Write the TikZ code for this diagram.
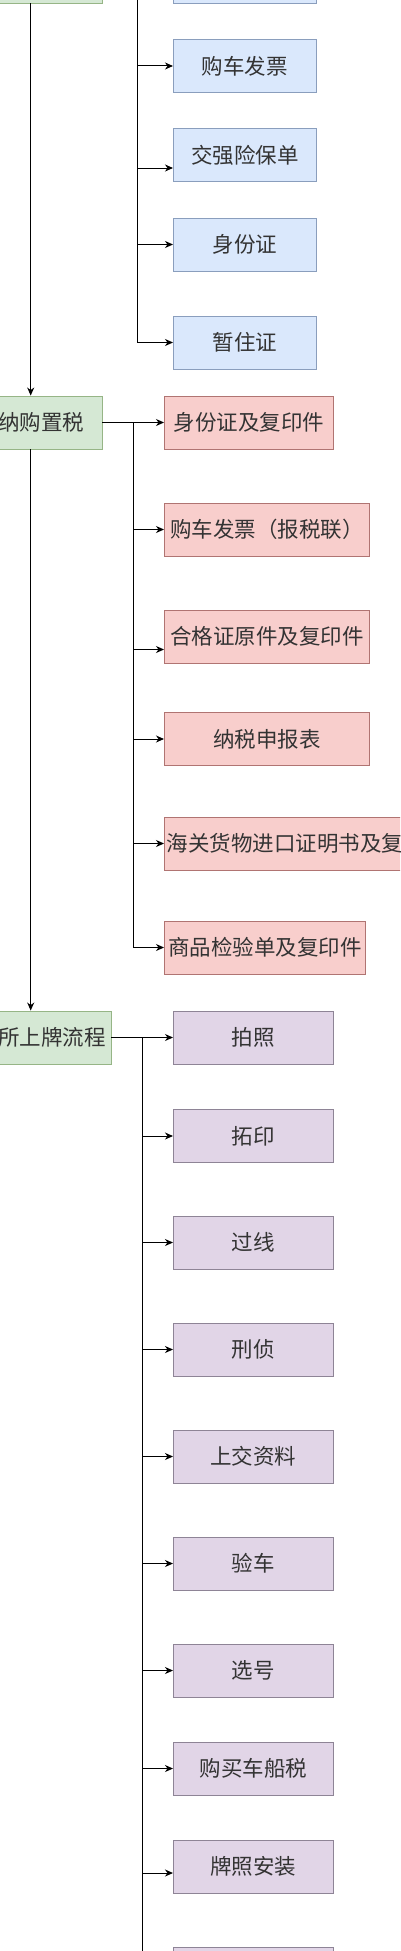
\documentclass[tikz,border=0pt]{standalone}
\usepackage{fontspec}
\setmainfont{Noto Sans CJK SC}
\usetikzlibrary{arrows.meta,calc}
\definecolor{txt}{HTML}{333333}
\definecolor{gfill}{HTML}{D5E8D4}
\definecolor{gline}{HTML}{96B586}
\definecolor{bfill}{HTML}{DAE8FC}
\definecolor{bline}{HTML}{8A9EBD}
\definecolor{pfill}{HTML}{F8CECC}
\definecolor{pline}{HTML}{B07472}
\definecolor{vfill}{HTML}{E1D5E7}
\definecolor{vline}{HTML}{8E8496}

\begin{document}
\begin{tikzpicture}[x=1pt, y=-1pt,
	box/.style = {draw, rectangle, minimum height=53pt, inner sep=2pt, line width=0.9pt, text=txt, font=\fontsize{21.5}{26}\selectfont},
	green/.style = {box, fill=gfill, draw=gline},
	blue/.style = {box, fill=bfill, draw=bline, anchor=west, minimum width=143pt},
	pink/.style = {box, fill=pfill, draw=pline, anchor=west},
	purple/.style = {box, fill=vfill, draw=vline, anchor=west, minimum width=160pt},
	arr/.style = {-{Stealth[length=8pt, width=7pt, inset=2.5pt]}, line width=1pt}]
		\useasboundingbox (0,0) rectangle (400,1951);
		\clip (0,0) rectangle (400,1951);
		% main steps
		\node[green, minimum width=142.6pt] (g0) at (30.7,-23.5) {};
		\node[green, minimum width=142.6pt] (g1) at (30.7,422.5) {缴纳购置税};
		\node[green, minimum width=160.6pt] (g2) at (30.7,1037.5) {车管所上牌流程};
		\draw[arr] (g0) -- (g1);
		\draw[arr] (g1) -- (g2);
		% documents
		\node[blue] (b0) at (173,-23.5) {};
		\node[blue] (b1) at (173,66) {购车发票};
		\node[blue] (b2) at (173,155) {交强险保单};
		\node[blue] (b3) at (173,244.5) {身份证};
		\node[blue] (b4) at (173,342.5) {暂住证};
		\coordinate (bj) at ($(g0.east)!.5!(b0.west)$);
		\draw[arr] (g0.east) -- (b0.west);
		\draw[arr] (g0.east) -- (bj) |- (b1.west);
		\draw[arr] (g0.east) -- (bj) |- ([yshift=-13pt]b2.west);
		\draw[arr] (g0.east) -- (bj) |- (b3.west);
		\draw[arr] (g0.east) -- (bj) |- (b4.west);
		% purchase tax
		\node[pink, minimum width=169pt] (p1) at (164,422.5) {身份证及复印件};
		\node[pink, minimum width=205pt] (p2) at (164,529.5) {购车发票（报税联）};
		\node[pink, minimum width=205pt] (p3) at (164,636.5) {合格证原件及复印件};
		\node[pink, minimum width=205pt] (p4) at (164,739) {纳税申报表};
		\node[pink, minimum width=284pt] (p5) at (164,843.5) {海关货物进口证明书及复印件};
		\node[pink, minimum width=201pt] (p6) at (164,947.5) {商品检验单及复印件};
		\coordinate (pj) at ($(g1.east)!.5!(p1.west)$);
		\draw[arr] (g1.east) -- (p1.west);
		\draw[arr] (g1.east) -- (pj) |- (p2.west);
		\draw[arr] (g1.east) -- (pj) |- ([yshift=-13pt]p3.west);
		\draw[arr] (g1.east) -- (pj) |- (p4.west);
		\draw[arr] (g1.east) -- (pj) |- (p5.west);
		\draw[arr] (g1.east) -- (pj) |- (p6.west);
		% plates
		\node[purple] (v1) at (173,1037.5) {拍照};
		\node[purple] (v2) at (173,1136) {拓印};
		\node[purple] (v3) at (173,1242.5) {过线};
		\node[purple] (v4) at (173,1349.5) {刑侦};
		\node[purple] (v5) at (173,1456.5) {上交资料};
		\node[purple] (v6) at (173,1563.5) {验车};
		\node[purple] (v7) at (173,1670.5) {选号};
		\node[purple] (v8) at (173,1768.5) {购买车船税};
		\node[purple] (v9) at (173,1866.5) {牌照安装};
		\node[purple] (v10) at (173,1973.5) {};
		\coordinate (vj) at ($(g2.east)!.5!(v1.west)$);
		\draw[arr] (g2.east) -- (v1.west);
		\draw[arr] (g2.east) -- (vj) |- (v2.west);
		\draw[arr] (g2.east) -- (vj) |- (v3.west);
		\draw[arr] (g2.east) -- (vj) |- (v4.west);
		\draw[arr] (g2.east) -- (vj) |- (v5.west);
		\draw[arr] (g2.east) -- (vj) |- (v6.west);
		\draw[arr] (g2.east) -- (vj) |- (v7.west);
		\draw[arr] (g2.east) -- (vj) |- (v8.west);
		\draw[arr] (g2.east) -- (vj) |- ([yshift=-6.5pt]v9.west);
		\draw[arr] (g2.east) -- (vj) |- (v10.west);
	\end{tikzpicture}
\end{document}
